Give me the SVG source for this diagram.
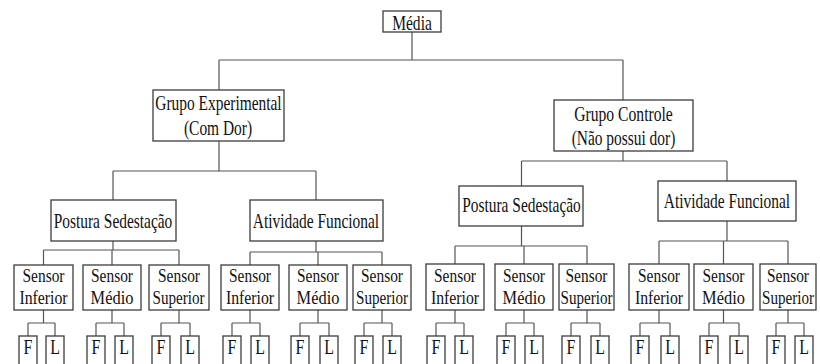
<svg xmlns="http://www.w3.org/2000/svg" width="820" height="364" viewBox="0 0 820 364">
  <style>
    .box { fill: #ffffff; stroke: #3c3c3c; stroke-width: 1.3; }
    .lbl { font-family: "Liberation Serif", "Times New Roman", serif; font-size: 21px; fill: #111111; text-anchor: middle; }
    .sn { font-size: 19.5px; }
    .edge { fill: none; stroke: #555555; stroke-width: 1.2; }
  </style>
  <rect width="820" height="364" fill="#ffffff"/>

  <!-- connectors -->
  <g id="connectors" class="edge">
    <!-- root -->
    <path d="M412 32 V60 M219 60 H623 M219 60 V90 M623 60 V100"/>
    <!-- groups to conditions -->
    <path d="M219 141 V171 M113 171 H316 M113 171 V200 M316 171 V200"/>
    <path d="M623 151 V161 M521.5 161 H727 M521.5 161 V186 M727 161 V181"/>
    <!-- conditions to sensors -->
    <path d="M113 241 V250 M43.5 250 H179 M43.5 250 V265 M112 250 V265 M179 250 V265"/>
    <path d="M316 241 V252 M250 252 H382 M250 252 V265 M318 252 V265 M382 252 V265"/>
    <path d="M521.5 226 V246 M455 246 H587 M455 246 V264 M524 246 V264 M587 246 V264"/>
    <path d="M727 221 V241 M659 241 H788 M659 241 V264 M723.5 241 V264 M788 241 V264"/>
    <!-- sensors to F / L -->
    <path d="M43.5 310 V323 M28 323 H55 M28 323 V336 M55 323 V336"/>
    <path d="M112 310 V323 M96 323 H124 M96 323 V336 M124 323 V336"/>
    <path d="M179 310 V323 M161 323 H190 M161 323 V336 M190 323 V336"/>
    <path d="M250 310 V323 M232 323 H260 M232 323 V336 M260 323 V336"/>
    <path d="M318 310 V323 M300 323 H329 M300 323 V336 M329 323 V336"/>
    <path d="M382 310 V323 M364 323 H392 M364 323 V336 M392 323 V336"/>
    <path d="M455 310 V323 M436 323 H464 M436 323 V336 M464 323 V336"/>
    <path d="M524 310 V323 M506 323 H534 M506 323 V336 M534 323 V336"/>
    <path d="M587 310 V323 M571 323 H600 M571 323 V336 M600 323 V336"/>
    <path d="M659 310 V323 M640 323 H670 M640 323 V336 M670 323 V336"/>
    <path d="M723.5 310 V323 M709 323 H739 M709 323 V336 M739 323 V336"/>
    <path d="M788 310 V323 M776 323 H804 M776 323 V336 M804 323 V336"/>
  </g>

  <!-- root -->
  <g id="media">
    <rect class="box" x="383" y="11" width="58" height="21"/>
    <text class="lbl" transform="translate(412 29.5) scale(0.74 1)">Média</text>
  </g>

  <!-- groups -->
  <g id="grupo-experimental">
    <rect class="box" x="153" y="90" width="131" height="51"/>
    <text class="lbl" transform="translate(218.5 109.5) scale(0.735 1)">Grupo Experimental</text>
    <text class="lbl" transform="translate(218 135) scale(0.735 1)">(Com Dor)</text>
  </g>
  <g id="grupo-controle">
    <rect class="box" x="554" y="100" width="139" height="51"/>
    <text class="lbl" transform="translate(623.5 120.5) scale(0.745 1)">Grupo Controle</text>
    <text class="lbl" transform="translate(623.5 145) scale(0.735 1)">(Não possui dor)</text>
  </g>

  <!-- conditions -->
  <g id="exp-postura">
    <rect class="box" x="51" y="200" width="125" height="41"/>
    <text class="lbl" transform="translate(113 227.5) scale(0.735 1)">Postura Sedestação</text>
  </g>
  <g id="exp-atividade">
    <rect class="box" x="250" y="200" width="133" height="41"/>
    <text class="lbl" transform="translate(316 227.5) scale(0.735 1)">Atividade Funcional</text>
  </g>
  <g id="ctl-postura">
    <rect class="box" x="459" y="186" width="124" height="40"/>
    <text class="lbl" transform="translate(521.5 211.5) scale(0.735 1)">Postura Sedestação</text>
  </g>
  <g id="ctl-atividade">
    <rect class="box" x="658" y="181" width="138" height="40"/>
    <text class="lbl" transform="translate(727 207.5) scale(0.735 1)">Atividade Funcional</text>
  </g>

  <!-- sensors -->
  <g id="s1"><rect class="box" x="14" y="265" width="59" height="45"/>
    <text class="lbl sn" transform="translate(43.5 281.5) scale(0.79 1)">Sensor</text>
    <text class="lbl sn" transform="translate(43.5 303.8) scale(0.81 1)">Inferior</text></g>
  <g id="s2"><rect class="box" x="83" y="265" width="58" height="45"/>
    <text class="lbl sn" transform="translate(112 281.5) scale(0.79 1)">Sensor</text>
    <text class="lbl sn" transform="translate(112 303.8) scale(0.84 1)">Médio</text></g>
  <g id="s3"><rect class="box" x="149" y="265" width="60" height="45"/>
    <text class="lbl sn" transform="translate(179 281.5) scale(0.79 1)">Sensor</text>
    <text class="lbl sn" transform="translate(178.5 303.8) scale(0.775 1)">Superior</text></g>
  <g id="s4"><rect class="box" x="221" y="265" width="58" height="45"/>
    <text class="lbl sn" transform="translate(250 281.5) scale(0.79 1)">Sensor</text>
    <text class="lbl sn" transform="translate(250 303.8) scale(0.81 1)">Inferior</text></g>
  <g id="s5"><rect class="box" x="289" y="265" width="58" height="45"/>
    <text class="lbl sn" transform="translate(318 281.5) scale(0.79 1)">Sensor</text>
    <text class="lbl sn" transform="translate(318 303.8) scale(0.84 1)">Médio</text></g>
  <g id="s6"><rect class="box" x="353" y="265" width="58" height="45"/>
    <text class="lbl sn" transform="translate(382 281.5) scale(0.79 1)">Sensor</text>
    <text class="lbl sn" transform="translate(382 303.8) scale(0.775 1)">Superior</text></g>
  <g id="s7"><rect class="box" x="426" y="264" width="58" height="46"/>
    <text class="lbl sn" transform="translate(455 281.5) scale(0.79 1)">Sensor</text>
    <text class="lbl sn" transform="translate(455 303.8) scale(0.81 1)">Inferior</text></g>
  <g id="s8"><rect class="box" x="495" y="264" width="58" height="46"/>
    <text class="lbl sn" transform="translate(524 281.5) scale(0.79 1)">Sensor</text>
    <text class="lbl sn" transform="translate(524 303.8) scale(0.84 1)">Médio</text></g>
  <g id="s9"><rect class="box" x="559" y="264" width="55" height="46"/>
    <text class="lbl sn" transform="translate(586.5 281.5) scale(0.79 1)">Sensor</text>
    <text class="lbl sn" transform="translate(586.5 303.8) scale(0.775 1)">Superior</text></g>
  <g id="s10"><rect class="box" x="629" y="264" width="60" height="46"/>
    <text class="lbl sn" transform="translate(659 281.5) scale(0.79 1)">Sensor</text>
    <text class="lbl sn" transform="translate(659 303.8) scale(0.81 1)">Inferior</text></g>
  <g id="s11"><rect class="box" x="694" y="264" width="59" height="46"/>
    <text class="lbl sn" transform="translate(723.5 281.5) scale(0.79 1)">Sensor</text>
    <text class="lbl sn" transform="translate(723.5 303.8) scale(0.84 1)">Médio</text></g>
  <g id="s12"><rect class="box" x="760" y="264" width="56" height="46"/>
    <text class="lbl sn" transform="translate(788 281.5) scale(0.79 1)">Sensor</text>
    <text class="lbl sn" transform="translate(788 303.8) scale(0.775 1)">Superior</text></g>

  <!-- F / L leaves -->
  <g id="leaves">
    <g id="f1"><rect class="box" x="19" y="336" width="18" height="40"/><text class="lbl" transform="translate(28 354) scale(0.76 1)">F</text></g>
    <g id="l1"><rect class="box" x="46" y="336" width="18" height="40"/><text class="lbl" transform="translate(55 354) scale(0.76 1)">L</text></g>
    <g id="f2"><rect class="box" x="87" y="336" width="18" height="40"/><text class="lbl" transform="translate(96 354) scale(0.76 1)">F</text></g>
    <g id="l2"><rect class="box" x="115" y="336" width="18" height="40"/><text class="lbl" transform="translate(124 354) scale(0.76 1)">L</text></g>
    <g id="f3"><rect class="box" x="152" y="336" width="18" height="40"/><text class="lbl" transform="translate(161 354) scale(0.76 1)">F</text></g>
    <g id="l3"><rect class="box" x="181" y="336" width="18" height="40"/><text class="lbl" transform="translate(190 354) scale(0.76 1)">L</text></g>
    <g id="f4"><rect class="box" x="223" y="336" width="18" height="40"/><text class="lbl" transform="translate(232 354) scale(0.76 1)">F</text></g>
    <g id="l4"><rect class="box" x="251" y="336" width="18" height="40"/><text class="lbl" transform="translate(260 354) scale(0.76 1)">L</text></g>
    <g id="f5"><rect class="box" x="291" y="336" width="18" height="40"/><text class="lbl" transform="translate(300 354) scale(0.76 1)">F</text></g>
    <g id="l5"><rect class="box" x="320" y="336" width="18" height="40"/><text class="lbl" transform="translate(329 354) scale(0.76 1)">L</text></g>
    <g id="f6"><rect class="box" x="355" y="336" width="18" height="40"/><text class="lbl" transform="translate(364 354) scale(0.76 1)">F</text></g>
    <g id="l6"><rect class="box" x="383" y="336" width="18" height="40"/><text class="lbl" transform="translate(392 354) scale(0.76 1)">L</text></g>
    <g id="f7"><rect class="box" x="427" y="336" width="18" height="40"/><text class="lbl" transform="translate(436 354) scale(0.76 1)">F</text></g>
    <g id="l7"><rect class="box" x="455" y="336" width="18" height="40"/><text class="lbl" transform="translate(464 354) scale(0.76 1)">L</text></g>
    <g id="f8"><rect class="box" x="497" y="336" width="18" height="40"/><text class="lbl" transform="translate(506 354) scale(0.76 1)">F</text></g>
    <g id="l8"><rect class="box" x="525" y="336" width="18" height="40"/><text class="lbl" transform="translate(534 354) scale(0.76 1)">L</text></g>
    <g id="f9"><rect class="box" x="562" y="336" width="18" height="40"/><text class="lbl" transform="translate(571 354) scale(0.76 1)">F</text></g>
    <g id="l9"><rect class="box" x="591" y="336" width="18" height="40"/><text class="lbl" transform="translate(600 354) scale(0.76 1)">L</text></g>
    <g id="f10"><rect class="box" x="631" y="336" width="18" height="40"/><text class="lbl" transform="translate(640 354) scale(0.76 1)">F</text></g>
    <g id="l10"><rect class="box" x="661" y="336" width="18" height="40"/><text class="lbl" transform="translate(670 354) scale(0.76 1)">L</text></g>
    <g id="f11"><rect class="box" x="700" y="336" width="18" height="40"/><text class="lbl" transform="translate(709 354) scale(0.76 1)">F</text></g>
    <g id="l11"><rect class="box" x="730" y="336" width="18" height="40"/><text class="lbl" transform="translate(739 354) scale(0.76 1)">L</text></g>
    <g id="f12"><rect class="box" x="767" y="336" width="18" height="40"/><text class="lbl" transform="translate(776 354) scale(0.76 1)">F</text></g>
    <g id="l12"><rect class="box" x="795" y="336" width="18" height="40"/><text class="lbl" transform="translate(804 354) scale(0.76 1)">L</text></g>
  </g>
</svg>
